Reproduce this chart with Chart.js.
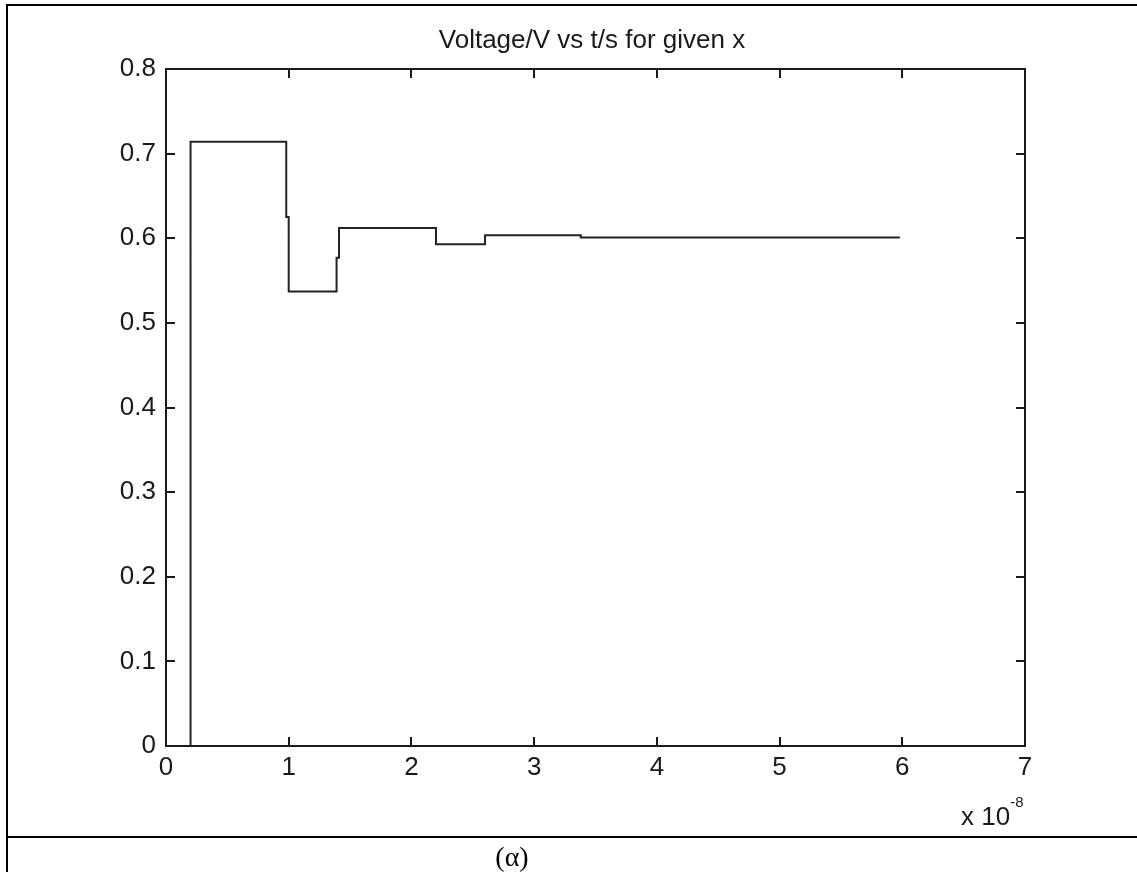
<!DOCTYPE html>
<html><head><meta charset="utf-8">
<script src="https://cdn.jsdelivr.net/npm/chart.js@4.4.0/dist/chart.umd.min.js"></script>
<style>
html,body{margin:0;padding:0;background:#fff;}
#wrap{position:relative;width:1137px;height:872px;overflow:hidden;background:#fff;}
#c{position:absolute;left:0;top:0;}
.abs{position:absolute;white-space:nowrap;}
.ln{background:#000;}
#title{left:292px;top:24px;width:600px;text-align:center;font:26px/30px "Liberation Sans",Arial,sans-serif;color:#1a1a1a;}
#exp{left:961px;top:801px;font:26px/30px "Liberation Sans",Arial,sans-serif;color:#1a1a1a;}
#exp span{position:relative;top:-18px;font-size:15px;}
#cap{left:412px;top:840px;width:200px;text-align:center;font:28px/34px "Liberation Serif","Times New Roman",serif;color:#000;}
</style></head><body>
<div id="wrap">
<canvas id="c" width="1137" height="872"></canvas>
<div class="abs ln" style="left:6px;top:4px;width:1131px;height:2px"></div>
<div class="abs ln" style="left:6px;top:4px;width:2px;height:868px"></div>
<div class="abs ln" style="left:6px;top:836px;width:1131px;height:2px"></div>
<div id="title" class="abs">Voltage/V vs t/s for given x</div>
<div id="exp" class="abs">x 10<span>-8</span></div>
<div id="cap" class="abs">(α)</div>
</div>
<script>
// time in units of 1e-8 s
const timeX = [0, 0.2, 0.2, 0.98, 0.98, 1.0, 1.0, 1.39, 1.39, 1.41, 1.41, 2.2, 2.2, 2.6, 2.6, 3.38, 3.38, 5.98];
const voltageY = [0, 0, 0.714, 0.714, 0.625, 0.625, 0.537, 0.537, 0.577, 0.577, 0.612, 0.612, 0.593, 0.593, 0.6035, 0.6035, 0.601, 0.601];
const xTickLabels = ['0','1','2','3','4','5','6','7'];
const yTickLabels = ['0','0.1','0.2','0.3','0.4','0.5','0.6','0.7','0.8'];

const FONT = {family: '"Liberation Sans", Arial, sans-serif', size: 26};

const boxPlugin = {
  id: 'box',
  afterDraw(chart) {
    const {ctx, chartArea: a, scales} = chart;
    ctx.save();
    ctx.strokeStyle = '#1a1a1a';
    ctx.lineWidth = 2;
    ctx.strokeRect(a.left, a.top, a.right - a.left, a.bottom - a.top);
    const L = 9;
    ctx.beginPath();
    scales.x.ticks.forEach(t => {
      const px = Math.round(scales.x.getPixelForValue(t.value));
      if (px <= a.left + 1 || px >= a.right - 1) return;
      ctx.moveTo(px, a.bottom); ctx.lineTo(px, a.bottom - L);
      ctx.moveTo(px, a.top); ctx.lineTo(px, a.top + L);
    });
    scales.y.ticks.forEach(t => {
      const py = Math.round(scales.y.getPixelForValue(t.value));
      if (py <= a.top + 1 || py >= a.bottom - 1) return;
      ctx.moveTo(a.left, py); ctx.lineTo(a.left + L, py);
      ctx.moveTo(a.right, py); ctx.lineTo(a.right - L, py);
    });
    ctx.stroke();
    ctx.restore();
  }
};

new Chart(document.getElementById('c'), {
  type: 'scatter',
  data: {
    datasets: [{
      data: timeX.map((x, i) => ({x: x, y: voltageY[i]})),
      showLine: true,
      borderColor: '#222',
      borderWidth: 2,
      pointRadius: 0,
      pointHoverRadius: 0,
      fill: false,
      tension: 0
    }]
  },
  options: {
    responsive: false,
    animation: false,
    devicePixelRatio: 1,
    layout: {padding: {top: 69, right: 112, left: 0, bottom: 0}},
    plugins: {legend: {display: false}, tooltip: {enabled: false}, title: {display: false}},
    scales: {
      x: {
        type: 'linear', min: 0, max: 7,
        grid: {display: false, drawTicks: false},
        border: {display: false},
        ticks: {stepSize: 1, autoSkip: false, maxRotation: 0, padding: 6, color: '#1a1a1a', font: FONT,
          callback: (v, i) => xTickLabels[i]},
        afterFit: s => { s.height = 126; }
      },
      y: {
        type: 'linear', min: 0, max: 0.8,
        grid: {display: false, drawTicks: false},
        border: {display: false},
        ticks: {stepSize: 0.1, autoSkip: false, padding: 10, color: '#1a1a1a', font: FONT,
          callback: (v, i) => yTickLabels[i]},
        afterFit: s => { s.width = 166; }
      }
    }
  },
  plugins: [boxPlugin]
});
</script>
</body></html>
